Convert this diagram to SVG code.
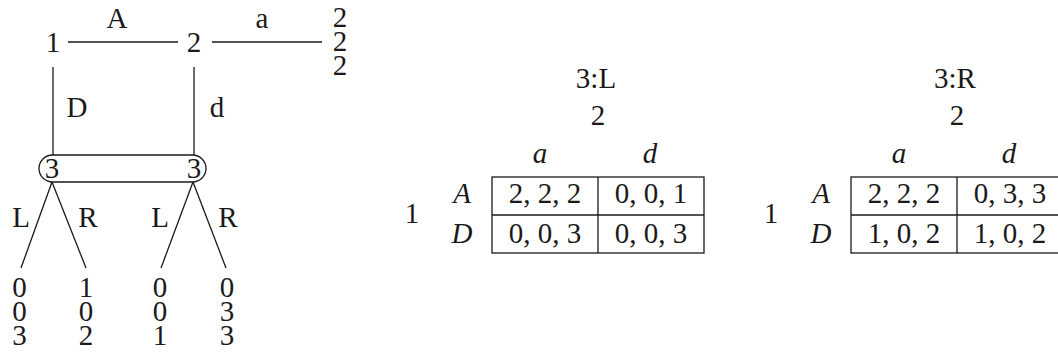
<svg xmlns="http://www.w3.org/2000/svg" width="1058" height="353" viewBox="0 0 1058 353">
<style>
text{font-family:"Liberation Serif","Times New Roman",serif;font-size:29px;fill:#1a1a1a;text-anchor:middle}
.i{font-style:italic}
.ln{stroke:#1a1a1a;stroke-width:1.3;fill:none}
</style>
<rect width="1058" height="353" fill="#fff"/>
<g id="connectors" class="ln">
<line x1="68" y1="42" x2="178" y2="42"/>
<line x1="212" y1="42" x2="322" y2="42"/>
<line x1="53" y1="67" x2="53" y2="155"/>
<line x1="194" y1="67" x2="194" y2="155"/>
<line x1="52" y1="182" x2="21" y2="268"/>
<line x1="52" y1="182" x2="86" y2="268"/>
<line x1="193" y1="182" x2="161" y2="268"/>
<line x1="193" y1="182" x2="226" y2="268"/>
</g>
<g id="edge-labels">
<text x="117" y="28">A</text>
<text x="262" y="28">a</text>
<text x="77" y="117">D</text>
<text x="217" y="117">d</text>
<text x="21" y="227">L</text>
<text x="88" y="227">R</text>
<text x="160" y="227">L</text>
<text x="228" y="227">R</text>
</g>
<g id="node1"><text x="53" y="52">1</text></g>
<g id="node2"><text x="194" y="52">2</text></g>
<g id="payoff-a"><text x="340" y="27">2<tspan x="340" dy="24">2</tspan><tspan x="340" dy="24">2</tspan></text></g>
<g id="node3-info">
<rect class="ln" x="39" y="155" width="167" height="27" rx="13.5"/>
<text x="52" y="178">3</text>
<text x="194" y="178">3</text>
</g>
<g id="leaf1"><text x="19.5" y="297">0<tspan x="19.5" dy="24">0</tspan><tspan x="19.5" dy="24">3</tspan></text></g>
<g id="leaf2"><text x="86" y="297">1<tspan x="86" dy="24">0</tspan><tspan x="86" dy="24">2</tspan></text></g>
<g id="leaf3"><text x="160" y="297">0<tspan x="160" dy="24">0</tspan><tspan x="160" dy="24">1</tspan></text></g>
<g id="leaf4"><text x="227" y="297">0<tspan x="227" dy="24">3</tspan><tspan x="227" dy="24">3</tspan></text></g>
<g id="tableL">
<text x="596" y="88">3:L</text>
<text x="598" y="125">2</text>
<text class="i" x="540" y="163">a</text>
<text class="i" x="650" y="163">d</text>
<text x="412" y="223">1</text>
<text class="i" x="462" y="203">A</text>
<text class="i" x="462" y="243">D</text>
<rect class="ln" x="492" y="177" width="212" height="76"/>
<line class="ln" x1="598" y1="177" x2="598" y2="253"/>
<line class="ln" x1="492" y1="215" x2="704" y2="215"/>
<text x="545" y="203">2, 2, 2</text>
<text x="651" y="203">0, 0, 1</text>
<text x="545" y="243">0, 0, 3</text>
<text x="651" y="243">0, 0, 3</text>
</g>
<g id="tableR">
<text x="955" y="88">3:R</text>
<text x="957" y="125">2</text>
<text class="i" x="899" y="163">a</text>
<text class="i" x="1009" y="163">d</text>
<text x="771" y="223">1</text>
<text class="i" x="821" y="203">A</text>
<text class="i" x="821" y="243">D</text>
<rect class="ln" x="851" y="177" width="212" height="76"/>
<line class="ln" x1="957" y1="177" x2="957" y2="253"/>
<line class="ln" x1="851" y1="215" x2="1063" y2="215"/>
<text x="904" y="203">2, 2, 2</text>
<text x="1010" y="203">0, 3, 3</text>
<text x="904" y="243">1, 0, 2</text>
<text x="1010" y="243">1, 0, 2</text>
</g>
</svg>
